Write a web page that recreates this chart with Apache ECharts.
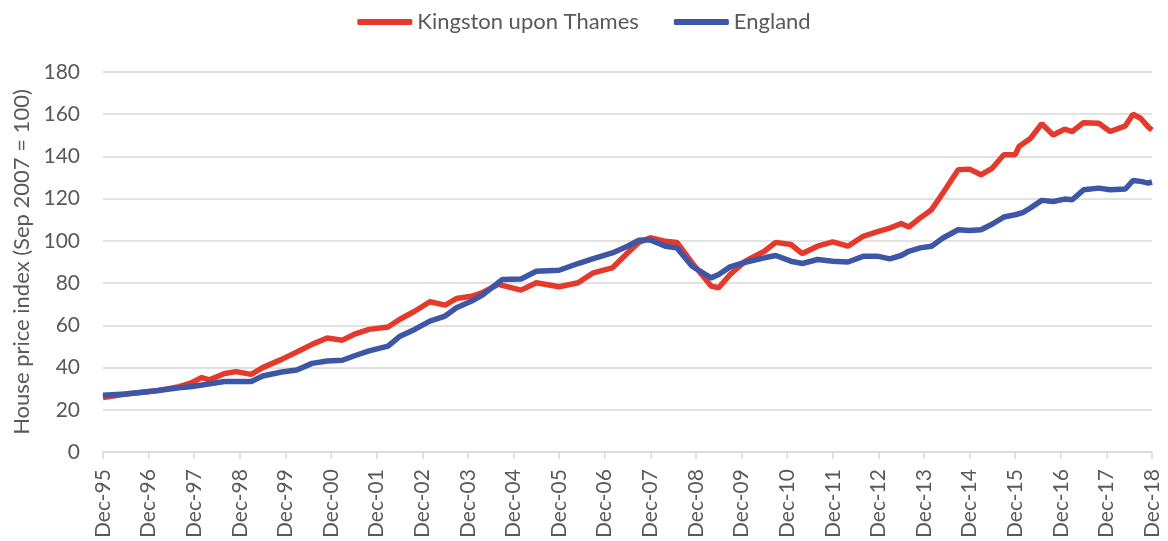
<!DOCTYPE html>
<html>
<head>
<meta charset="utf-8">
<script src="https://cdn.jsdelivr.net/npm/echarts@6/dist/echarts.min.js"></script>
<style>
  html, body {margin: 0; padding: 0; background: #fff;}
  #chart {width: 1168px; height: 541px;}
</style>
</head>
<body>
<div id="chart"></div>
<script>
// months since Dec-95
const kingstonMonths = [0, 6, 14, 20, 23, 26, 28, 32, 35, 39, 42, 47, 51, 55, 59, 63, 66, 70, 75, 78, 82, 86, 90, 93, 97, 100, 104, 110, 114, 120, 125, 129, 134, 138, 141, 144, 148, 151, 155, 160, 162, 165, 169, 174, 177, 181, 184, 188, 192, 196, 200, 204, 207, 210, 212, 215, 218, 221, 225, 228, 231, 234, 237, 240, 241, 244, 247, 250, 253, 255, 258, 262, 265, 269, 271, 273, 275, 276];
const kingston = [25.8, 27.5, 29, 31, 32.6, 35.3, 34.2, 37.2, 38.1, 36.8, 40, 43.9, 47.4, 51, 54, 53, 55.7, 58.1, 59.2, 62.8, 66.7, 71.2, 69.6, 72.7, 73.8, 75.7, 79.4, 76.7, 80.2, 78.3, 80.2, 84.9, 87.2, 94.3, 99.3, 101.5, 99.8, 99.3, 89.6, 78.6, 77.8, 84.1, 90.4, 95.1, 99.3, 98.3, 94, 97.5, 99.5, 97.5, 102.2, 104.5, 106.1, 108.2, 106.6, 110.9, 114.8, 122.7, 133.7, 134, 131.3, 134.5, 140.8, 140.8, 144.7, 148.5, 155.5, 150.2, 152.9, 151.8, 156, 155.7, 151.8, 154.5, 160, 158.1, 154, 152.5];

const englandMonths = [0, 6, 14, 20, 23, 26, 32, 35, 39, 42, 47, 51, 55, 59, 63, 66, 70, 75, 78, 82, 86, 90, 93, 97, 100, 105, 110, 114, 120, 125, 129, 134, 138, 141, 144, 148, 151, 155, 160, 162, 165, 169, 174, 177, 181, 184, 188, 192, 196, 200, 204, 207, 210, 212, 215, 218, 221, 225, 228, 231, 234, 237, 240, 242, 244, 247, 250, 253, 255, 258, 262, 265, 269, 271, 273, 275, 276];
const england = [26.9, 27.5, 29, 30.5, 30.9, 31.8, 33.4, 33.4, 33.4, 36, 37.9, 38.9, 42, 43.1, 43.5, 45.5, 47.9, 50.2, 54.7, 58.1, 62, 64.4, 68.3, 71.5, 74.6, 81.7, 82, 85.6, 86.1, 89.3, 91.6, 94.3, 97.5, 100.3, 100.5, 97.5, 96.7, 88, 82.5, 84.1, 87.7, 89.9, 92, 93.1, 90.4, 89.3, 91.2, 90.4, 90, 92.7, 92.7, 91.5, 93.1, 95.1, 96.7, 97.5, 101.4, 105.3, 104.9, 105.3, 108, 111.3, 112.4, 113.4, 115.6, 119.2, 118.7, 119.8, 119.5, 124.2, 125, 124.2, 124.6, 128.6, 128.2, 127.4, 127.9];

const seriesNames = ['Kingston upon Thames', 'England'];
const seriesColors = ['#e53a2b', '#3d56a6'];
const yTicks = {min: 0, max: 180, interval: 20};
const firstYear = 1995;

const textColor = '#595959';
const fontFamily = 'Lato, "Open Sans", sans-serif';

const pairs = (xs, ys) => xs.map((m, i) => [m, ys[i]]);

const chart = echarts.init(document.getElementById('chart'));
chart.setOption({
    animation: false,
    legend: {
        top: 6,
        left: 'center',
        icon: 'roundRect',
        itemWidth: 55,
        itemHeight: 6,
        itemGap: 35,
        textStyle: {color: textColor, fontSize: 22, fontFamily},
        data: seriesNames,
    },
    grid: {left: 103, right: 16, top: 72, bottom: 88, containLabel: false},
    xAxis: {
        type: 'value',
        min: 0,
        max: 276,
        interval: 12,
        axisLine: {lineStyle: {color: '#d9d9d9', width: 1.5}},
        axisTick: {show: true, length: 7, lineStyle: {color: '#d9d9d9', width: 1.5}},
        splitLine: {show: false},
        axisLabel: {
            rotate: 90,
            color: textColor,
            fontSize: 21,
            fontFamily,
            margin: 17,
            formatter: (v) => {
                const yy = (firstYear + Math.round(v / 12)) % 100;
                return 'Dec-' + String(yy).padStart(2, '0');
            },
        },
    },
    yAxis: {
        type: 'value',
        min: yTicks.min,
        max: yTicks.max,
        interval: yTicks.interval,
        name: 'House price index (Sep 2007 = 100)',
        nameLocation: 'middle',
        nameGap: 70,
        nameTextStyle: {color: textColor, fontSize: 22, fontFamily},
        axisLine: {show: false},
        axisTick: {show: false},
        axisLabel: {color: textColor, fontSize: 21, fontFamily, margin: 23},
        splitLine: {lineStyle: {color: '#d9d9d9', width: 1.5}},
    },
    series: [
        {
            name: seriesNames[0],
            type: 'line',
            symbol: 'none',
            data: pairs(kingstonMonths, kingston),
            lineStyle: {color: seriesColors[0], width: 5.5},
            itemStyle: {color: seriesColors[0]},
        },
        {
            name: seriesNames[1],
            type: 'line',
            symbol: 'none',
            data: pairs(englandMonths, england),
            lineStyle: {color: seriesColors[1], width: 5.5},
            itemStyle: {color: seriesColors[1]},
        },
    ],
});
</script>
</body>
</html>
